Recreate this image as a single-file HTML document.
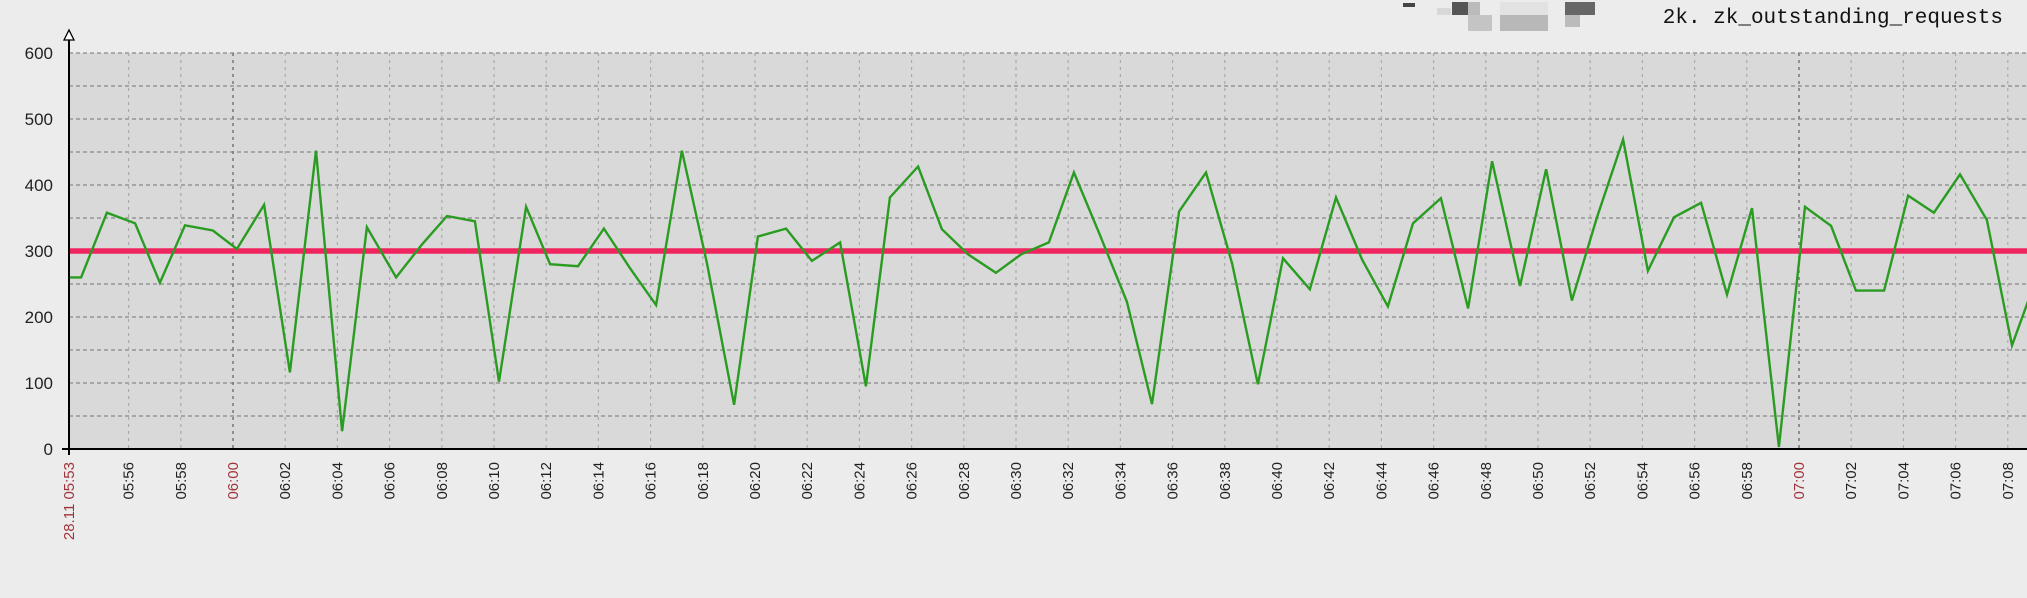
<!DOCTYPE html>
<html><head><meta charset="utf-8"><style>
html,body{margin:0;padding:0;background:#ececec;}
svg{display:block;}
text{font-family:"Liberation Sans",sans-serif;}
</style></head><body>
<svg id="chart" width="2027" height="598" xmlns="http://www.w3.org/2000/svg">
<rect width="2027" height="598" fill="#ececec"/>
<g>
<rect x="1452" y="2" width="16" height="13" fill="#555"/>
<rect x="1468" y="2" width="12" height="13" fill="#bbb"/>
<rect x="1437" y="8" width="14" height="7" fill="#d8d8d8"/>
<rect x="1468" y="15" width="24" height="16" fill="#c4c4c4"/>
<rect x="1500" y="15" width="48" height="16" fill="#b8b8b8"/>
<rect x="1500" y="2" width="48" height="13" fill="#e2e2e2"/>
<rect x="1565" y="2" width="30" height="13" fill="#666"/>
<rect x="1565" y="15" width="15" height="12" fill="#bbb"/>
<rect x="1403" y="3" width="12" height="4" fill="#444"/>
</g>
<text x="2003" y="23" text-anchor="end" font-size="21" fill="#111" style="font-family:'Liberation Mono',monospace">2k. zk_outstanding_requests</text>
<rect x="69" y="53" width="1958" height="396" fill="#d9d9d9"/>
<g id="grid"></g>
<g id="marks"></g>
<g id="axes"></g>
</svg>
<script>
const yTicks=[0,100,200,300,400,500,600];
const xTickLabels=["05:56","05:58","06:00","06:02","06:04","06:06","06:08","06:10","06:12","06:14","06:16","06:18","06:20","06:22","06:24","06:26","06:28","06:30","06:32","06:34","06:36","06:38","06:40","06:42","06:44","06:46","06:48","06:50","06:52","06:54","06:56","06:58","07:00","07:02","07:04","07:06","07:08"];
const startLabel="28.11 05:53";
const startMinute=-6.28;
const threshold=300;
// minutes relative to 06:00
const times=[-6.28,-5.82,-4.83,-3.75,-2.80,-1.84,-0.77,0.15,1.19,2.18,3.18,4.18,5.13,6.25,7.24,8.20,9.27,10.19,11.23,12.15,13.22,14.21,15.21,16.21,17.20,18.16,19.20,20.11,21.19,22.18,23.26,24.25,25.17,26.25,27.16,28.16,29.23,30.2,31.26,32.22,33.22,34.25,35.21,36.25,37.28,38.28,39.27,40.23,41.26,42.26,43.26,44.25,45.21,46.28,47.32,48.24,49.31,50.31,51.30,52.26,53.26,54.21,55.21,56.25,57.24,58.20,59.23,60.23,61.23,62.18,63.26,64.18,65.17,66.17,67.20,68.16,69.2];
const values=[260,260,358,342,252,339,331,303,370,116,452,27,336,260,310,353,345,102,367,280,277,334,274,218,452,281,67,322,334,285,313,95,381,428,333,295,267,295,313,419,324,223,68,360,419,281,98,289,242,381,287,216,342,380,213,436,247,424,225,351,469,270,351,373,234,365,3,367,338,240,240,384,358,416,347,157,270];

const NS="http://www.w3.org/2000/svg";
const X=m=>233+m*26.1;
const Y=v=>449-v*0.66;
function mk(tag,attrs,parent,txt){const e=document.createElementNS(NS,tag);for(const k in attrs)e.setAttribute(k,attrs[k]);if(txt!==undefined)e.textContent=txt;parent.appendChild(e);return e;}
const grid=document.getElementById('grid'),marks=document.getElementById('marks'),axes=document.getElementById('axes');
function labelMinute(s){const p=s.split(':');return (+p[0]*60+ +p[1])-360;}
for(let v=50;v<=600;v+=50){
  const l=mk('line',{x1:69,x2:2027,y1:Y(v),y2:Y(v),stroke:'#888','stroke-width':1.3,'stroke-dasharray':'4,3'},grid);
  
  
}
xTickLabels.forEach(s=>{
  const m=labelMinute(s);const x=X(m);const hour=s.endsWith(':00');
  const l=mk('line',{x1:x,x2:x,y1:53,y2:449,stroke:hour?'#777':'#aaa','stroke-width':hour?1.5:1.2,'stroke-dasharray':'3,4'},grid);
  
  
  const t=mk('text',{x:0,y:0,'font-size':15,'text-anchor':'end',fill:hour?'#a0343c':'#222',transform:`translate(${x+5},462) rotate(-90)`},axes,s);
  
  
});
const st=mk('text',{x:0,y:0,'font-size':15,'text-anchor':'end',fill:'#a0343c',transform:`translate(${X(startMinute)+5},462) rotate(-90)`},axes,startLabel);


const th=mk('line',{x1:69,x2:2027,y1:Y(threshold),y2:Y(threshold),stroke:'#f0245e','stroke-width':5.5},marks);


const pts=times.map((t,i)=>X(t).toFixed(1)+','+Y(values[i]).toFixed(1)).join(' ');
const cp=mk('clipPath',{id:'clip'},marks);mk('rect',{x:69,y:40,width:1958,height:420},cp);
const pl=mk('polyline',{points:pts,fill:'none',stroke:'#2a9c22','stroke-width':2.4,'stroke-linejoin':'miter','clip-path':'url(#clip)'},marks);


const ya=mk('line',{x1:69,x2:69,y1:34,y2:455,stroke:'#000','stroke-width':2},axes);


const ar=mk('path',{d:'M64,40 L69,30 L74,40 Z',fill:'#fff',stroke:'#000','stroke-width':1.3},axes);


const xa=mk('line',{x1:62,x2:2027,y1:449,y2:449,stroke:'#000','stroke-width':2},axes);


yTicks.forEach(v=>{
  const t=mk('text',{x:53,y:Y(v)+6,'font-size':17,'text-anchor':'end',fill:'#222'},axes,String(v));
  
  
});
</script>
</body></html>
